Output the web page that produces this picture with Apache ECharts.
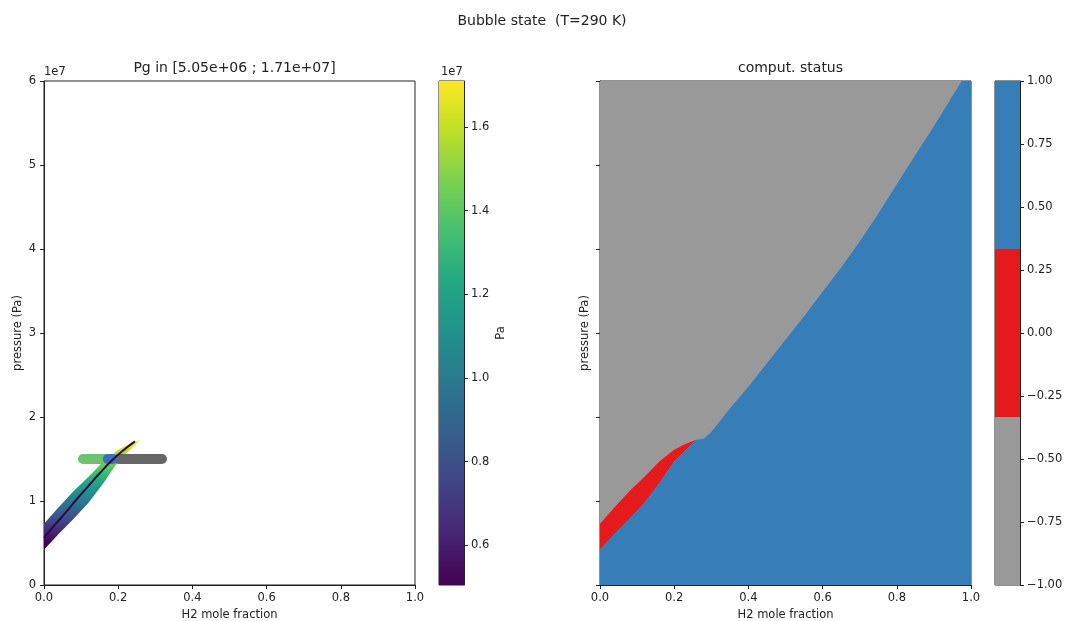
<!DOCTYPE html>
<html>
<head>
<meta charset="utf-8">
<script src="https://cdn.jsdelivr.net/npm/echarts@6/dist/echarts.min.js"></script>
<style>
html,body{margin:0;padding:0;background:#fff;}
#chart{width:1065px;height:621px;}
</style>
</head>
<body>
<div id="chart"></div>
<script>
// ---------- data ----------
// two-phase strip (status 0) : H2 mole fraction and its upper / lower pressure limits (Pa)
const stripX      = [0, 0.04, 0.08, 0.12, 0.16, 0.20, 0.23, 0.26];
const stripTop    = [0.73e7, 0.93e7, 1.12e7, 1.29e7, 1.47e7, 1.61e7, 1.68e7, 1.73e7];
const stripBottom = [0.42e7, 0.61e7, 0.79e7, 0.98e7, 1.21e7, 1.47e7, 1.60e7, 1.73e7];
// boundary between failed (-1) and converged (1) computations above the strip
const bubbleX = [0.26, 0.28, 0.30, 0.35, 0.40, 0.45, 0.50, 0.55, 0.60, 0.65, 0.70, 0.75, 0.80, 0.85, 0.90, 0.95, 0.975];
const bubbleP = [1.73e7, 1.74e7, 1.82e7, 2.10e7, 2.36e7, 2.64e7, 2.92e7, 3.20e7, 3.49e7, 3.78e7, 4.09e7, 4.42e7, 4.77e7, 5.12e7, 5.46e7, 5.82e7, 6.0e7];
// bubble-pressure curve drawn over the strip
const curveX = [0, 0.03, 0.06, 0.09, 0.12, 0.15, 0.18, 0.21, 0.245];
const curveP = [0.56e7, 0.72e7, 0.87e7, 1.03e7, 1.18e7, 1.33e7, 1.47e7, 1.59e7, 1.71e7];
// horizontal path at 1.5e7 Pa
const pathP = 1.5e7;
const liquidX = [0.105, 0.165];
const gasX    = [0.20, 0.318];
const mixX    = [0.172, 0.185];
// colour ranges
const pgRange = [5.05e6, 1.71e7];
const pgTicks = [0.6e7, 0.8e7, 1.0e7, 1.2e7, 1.4e7, 1.6e7];
const statusBounds = [-1, -1/3, 1/3, 1];
const statusColors = ['#999999', '#e41a1c', '#377eb8'];
const viridis = ['#440154','#482475','#414487','#355f8d','#2a788e','#21918c','#22a884','#44bf70','#7ad151','#bddf26','#fde725'];
const pMax = 6e7;

// ---------- helpers ----------
const FONT = 'DejaVu Sans';
const TXT = '#222';
function viridisGrad(y0, y1) {
  const stops = viridis.map((c, i) => ({offset: i / (viridis.length - 1), color: c}));
  return new echarts.graphic.LinearGradient(0, y0, 0, y1, stops, true);
}
function stripPts(api) {
  const pts = [];
  for (let i = 0; i < stripX.length; i++) pts.push(api.coord([stripX[i], stripTop[i]]));
  for (let i = stripX.length - 1; i >= 0; i--) pts.push(api.coord([stripX[i], stripBottom[i]]));
  return pts;
}
function axisCommon(extra) {
  return Object.assign({
    type: 'value',
    splitLine: {show: false},
    axisLine: {show: true, onZero: false, lineStyle: {color: TXT, width: 1}},
    axisTick: {show: true, length: 4, lineStyle: {color: TXT}},
    axisLabel: {color: TXT, fontFamily: FONT, fontSize: 11.5, margin: 7},
    nameTextStyle: {color: TXT, fontFamily: FONT, fontSize: 11.5},
    nameLocation: 'middle'
  }, extra);
}
function gridAt(left, width) {
  return {left: left, top: 81, width: width, height: 504, show: true, borderColor: TXT, borderWidth: 1,
    backgroundColor: 'transparent', containLabel: false, outerBoundsMode: 'none'};
}

const chart = echarts.init(document.getElementById('chart'), null, {renderer: 'canvas'});
const option = {
  animation: false,
  backgroundColor: '#fff',
  title: [
    {text: 'Bubble state  (T=290 K)', left: 537, top: 9, textAlign: 'center',
     textStyle: {fontFamily: FONT, fontSize: 14, fontWeight: 'normal', color: TXT}},
    {text: 'Pg in [5.05e+06 ; 1.71e+07]', left: 229.5, top: 56, textAlign: 'center',
     textStyle: {fontFamily: FONT, fontSize: 14, fontWeight: 'normal', color: TXT}},
    {text: 'comput. status', left: 785.5, top: 56, textAlign: 'center',
     textStyle: {fontFamily: FONT, fontSize: 14, fontWeight: 'normal', color: TXT}}
  ],
  graphic: [
    {type: 'text', left: 44, top: 66, style: {text: '1e7', font: '11.5px "DejaVu Sans"', fill: TXT}},
    {type: 'text', left: 441, top: 66, style: {text: '1e7', font: '11.5px "DejaVu Sans"', fill: TXT}}
  ],
  grid: [gridAt(44, 371), gridAt(439, 25), gridAt(600, 371), gridAt(995, 25)],
  xAxis: [
    axisCommon({gridIndex: 0, min: 0, max: 1, interval: 0.2, name: 'H2 mole fraction', nameGap: 24,
      axisLabel: {color: TXT, fontFamily: FONT, fontSize: 11.5, margin: 7, formatter: v => v.toFixed(1)}}),
    {gridIndex: 1, type: 'value', min: 0, max: 1, show: false},
    axisCommon({gridIndex: 2, min: 0, max: 1, interval: 0.2, name: 'H2 mole fraction', nameGap: 24,
      axisLabel: {color: TXT, fontFamily: FONT, fontSize: 11.5, margin: 7, formatter: v => v.toFixed(1)}}),
    {gridIndex: 3, type: 'value', min: 0, max: 1, show: false}
  ],
  yAxis: [
    axisCommon({gridIndex: 0, min: 0, max: pMax, interval: 1e7, name: 'pressure (Pa)', nameGap: 20, nameRotate: 90,
      axisLabel: {color: TXT, fontFamily: FONT, fontSize: 11.5, margin: 8, formatter: v => String(Math.round(v / 1e7))}}),
    axisCommon({gridIndex: 1, position: 'right', min: pgRange[0], max: pgRange[1], name: 'Pa', nameGap: 31, nameRotate: 90,
      axisTick: {show: true, length: 4, lineStyle: {color: TXT}, customValues: pgTicks},
      axisLabel: {color: TXT, fontFamily: FONT, fontSize: 11.5, margin: 7, customValues: pgTicks, formatter: v => (v / 1e7).toFixed(1)}}),
    axisCommon({gridIndex: 2, min: 0, max: pMax, interval: 1e7, name: 'pressure (Pa)', nameGap: 9, nameRotate: 90,
      axisLabel: {show: false}}),
    axisCommon({gridIndex: 3, position: 'right', min: -1, max: 1, interval: 0.25,
      axisLabel: {color: TXT, fontFamily: FONT, fontSize: 11.5, margin: 7, formatter: v => v.toFixed(2).replace('-', '\u2212')}})
  ],
  series: [
    // ----- left panel -----
    {type: 'custom', xAxisIndex: 0, yAxisIndex: 0, clip: true, data: [[0, 0]], z: 2,
      renderItem: function (params, api) {
        const y0 = api.coord([0, pgRange[0]])[1], y1 = api.coord([0, pgRange[1]])[1];
        return {type: 'polygon', shape: {points: stripPts(api)}, style: {fill: viridisGrad(y0, y1), stroke: null}};
      }},
    {type: 'line', xAxisIndex: 0, yAxisIndex: 0, z: 3, symbol: 'none', silent: true,
      data: liquidX.map(x => [x, pathP]), lineStyle: {color: '#70c170', width: 10, cap: 'round'}},
    {type: 'line', xAxisIndex: 0, yAxisIndex: 0, z: 3, symbol: 'none', silent: true,
      data: gasX.map(x => [x, pathP]), lineStyle: {color: '#666666', width: 10, cap: 'round'}},
    {type: 'line', xAxisIndex: 0, yAxisIndex: 0, z: 4, symbol: 'none', silent: true,
      data: mixX.map(x => [x, pathP]), lineStyle: {color: '#3d6fb6', width: 10, cap: 'round'}},
    {type: 'line', xAxisIndex: 0, yAxisIndex: 0, z: 5, symbol: 'none', silent: true, smooth: 0.5,
      data: curveX.map((x, i) => [x, curveP[i]]), lineStyle: {color: '#2b0a47', width: 2}},
    // ----- left colorbar -----
    {type: 'custom', xAxisIndex: 1, yAxisIndex: 1, data: [[0, 0]], z: 2,
      renderItem: function (params, api) {
        const a = api.coord([0, pgRange[0]]), b = api.coord([1, pgRange[1]]);
        return {type: 'rect', shape: {x: a[0], y: b[1], width: b[0] - a[0], height: a[1] - b[1]},
          style: {fill: viridisGrad(a[1], b[1])}};
      }},
    // ----- right panel -----
    {type: 'custom', xAxisIndex: 2, yAxisIndex: 2, clip: true, data: [[0, 0]], z: 1,
      renderItem: function (params, api) {
        const a = api.coord([0, 0]), b = api.coord([1, pMax]);
        return {type: 'rect', shape: {x: a[0], y: b[1], width: b[0] - a[0], height: a[1] - b[1]},
          style: {fill: statusColors[0]}};
      }},
    {type: 'custom', xAxisIndex: 2, yAxisIndex: 2, clip: true, data: [[0, 0]], z: 2,
      renderItem: function (params, api) {
        return {type: 'polygon', shape: {points: stripPts(api)}, style: {fill: statusColors[1]}};
      }},
    {type: 'custom', xAxisIndex: 2, yAxisIndex: 2, clip: true, data: [[0, 0]], z: 3,
      renderItem: function (params, api) {
        const pts = [api.coord([0, 0])];
        for (let i = 0; i < stripX.length; i++) pts.push(api.coord([stripX[i], stripBottom[i]]));
        for (let i = 1; i < bubbleX.length; i++) pts.push(api.coord([bubbleX[i], bubbleP[i]]));
        pts.push(api.coord([1, pMax]));
        pts.push(api.coord([1, 0]));
        return {type: 'polygon', shape: {points: pts}, style: {fill: statusColors[2]}};
      }},
    // ----- right colorbar -----
    {type: 'custom', xAxisIndex: 3, yAxisIndex: 3, z: 2,
      data: statusColors.map((c, i) => [statusBounds[i], statusBounds[i + 1]]),
      renderItem: function (params, api) {
        const a = api.coord([0, api.value(0)]), b = api.coord([1, api.value(1)]);
        return {type: 'rect', shape: {x: a[0], y: b[1], width: b[0] - a[0], height: a[1] - b[1]},
          style: {fill: statusColors[params.dataIndex]}};
      }}
  ]
};
chart.setOption(option);
</script>
</body>
</html>
